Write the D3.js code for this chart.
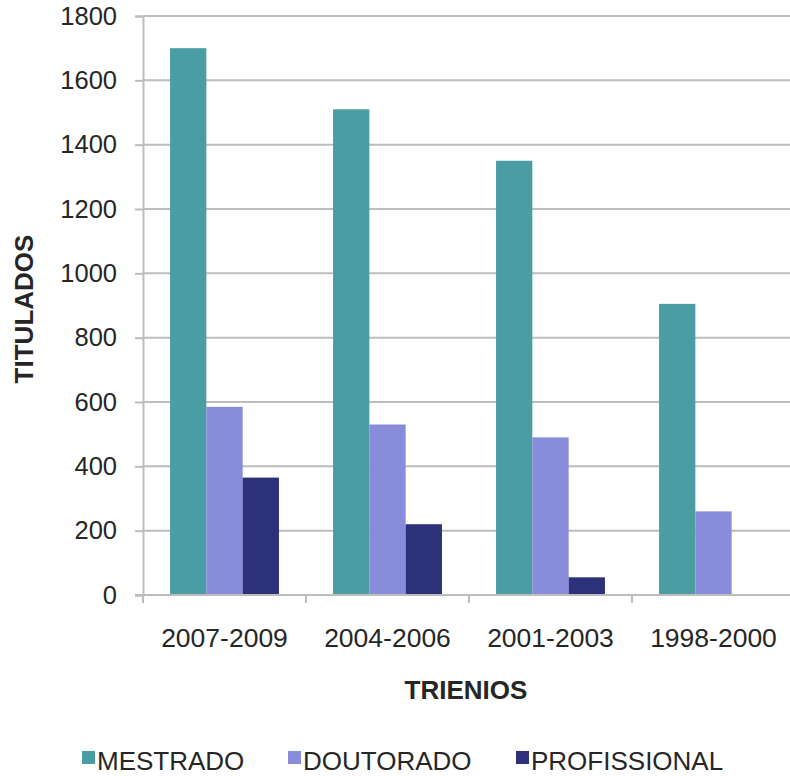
<!DOCTYPE html>
<html>
<head>
<meta charset="utf-8">
<script src="https://cdn.jsdelivr.net/npm/d3@7"></script>
<style>
  body { margin: 0; background: #fff; }
  text { font-family: "Liberation Sans", Arial, sans-serif; fill: #262626; }
</style>
</head>
<body>
<svg width="790" height="776"></svg>
<script>
var trienios = ["2007-2009", "2004-2006", "2001-2003", "1998-2000"]
var series = ["MESTRADO", "DOUTORADO", "PROFISSIONAL"]
var mestrado = [1700, 1510, 1350, 905]
var doutorado = [585, 530, 490, 260]
var profissional = [365, 220, 55, 0]
var colors = ["#4a9da3", "#898bdb", "#2d317a"]
var yTicks = [0, 200, 400, 600, 800, 1000, 1200, 1400, 1600, 1800]

var values = [mestrado, doutorado, profissional]

var svg = d3.select("svg")
var plotLeft = 143, plotRight = 795, plotTop = 16, plotBottom = 595

var x0 = d3.scaleBand().domain(trienios).range([plotLeft, plotRight])
var x1 = d3.scaleBand().domain(series).range([0, x0.bandwidth()]).paddingOuter(0.745)
var y = d3.scaleLinear().domain([0, 1800]).range([plotBottom, plotTop])

// gridlines
svg.append("g")
  .selectAll("line")
  .data(yTicks.slice(1))
  .enter().append("line")
    .attr("x1", plotLeft).attr("x2", 790)
    .attr("y1", d => y(d)).attr("y2", d => y(d))
    .attr("stroke", "#bdbdbd").attr("stroke-width", 2)

// y axis
var yAxis = svg.append("g")
  .attr("transform", "translate(" + plotLeft + ",0)")
  .call(d3.axisLeft(y).tickValues(yTicks).tickFormat(d3.format("d")).tickSize(8).tickPadding(18))
yAxis.select(".domain").attr("stroke", "#bdbdbd").attr("stroke-width", 2)
yAxis.selectAll(".tick line").attr("stroke", "#bdbdbd").attr("stroke-width", 2)
yAxis.selectAll(".tick text")
  .style("font-family", "Liberation Sans, Arial, sans-serif")
  .style("font-size", "25.5px").attr("fill", "#262626")

// bars
trienios.forEach((t, i) => {
  series.forEach((s, j) => {
    var v = values[j][i]
    if (v <= 0) return
    svg.append("rect")
      .attr("x", x0(t) + x1(s))
      .attr("y", y(v))
      .attr("width", x1.bandwidth())
      .attr("height", y(0) - y(v))
      .attr("fill", colors[j])
  })
})

// x axis
svg.append("line")
  .attr("x1", plotLeft - 8).attr("x2", 790)
  .attr("y1", plotBottom).attr("y2", plotBottom)
  .attr("stroke", "#bdbdbd").attr("stroke-width", 2)
svg.append("g")
  .selectAll("line")
  .data(trienios)
  .enter().append("line")
    .attr("x1", d => x0(d)).attr("x2", d => x0(d))
    .attr("y1", plotBottom).attr("y2", plotBottom + 8)
    .attr("stroke", "#bdbdbd").attr("stroke-width", 2)
svg.append("g")
  .selectAll("text")
  .data(trienios)
  .enter().append("text")
    .attr("x", d => x0(d) + x0.bandwidth() / 2)
    .attr("y", 647)
    .attr("text-anchor", "middle")
    .style("font-size", "26.5px")
    .text(d => d)

// axis titles
svg.append("text")
  .attr("x", 466).attr("y", 699)
  .attr("text-anchor", "middle")
  .style("font-size", "26px").style("font-weight", "bold")
  .text("TRIENIOS")
svg.append("text")
  .attr("transform", "translate(33,309) rotate(-90)")
  .attr("text-anchor", "middle")
  .style("font-size", "26px").style("font-weight", "bold")
  .text("TITULADOS")

// legend
var legX = [97, 303, 531]
var leg = svg.append("g")
series.forEach((s, j) => {
  leg.append("rect")
    .attr("x", legX[j] - 15).attr("y", 751)
    .attr("width", 13).attr("height", 13)
    .attr("fill", colors[j])
  leg.append("text")
    .attr("x", legX[j]).attr("y", 770)
    .style("font-size", "26px")
    .text(s)
})
</script>
</body>
</html>
